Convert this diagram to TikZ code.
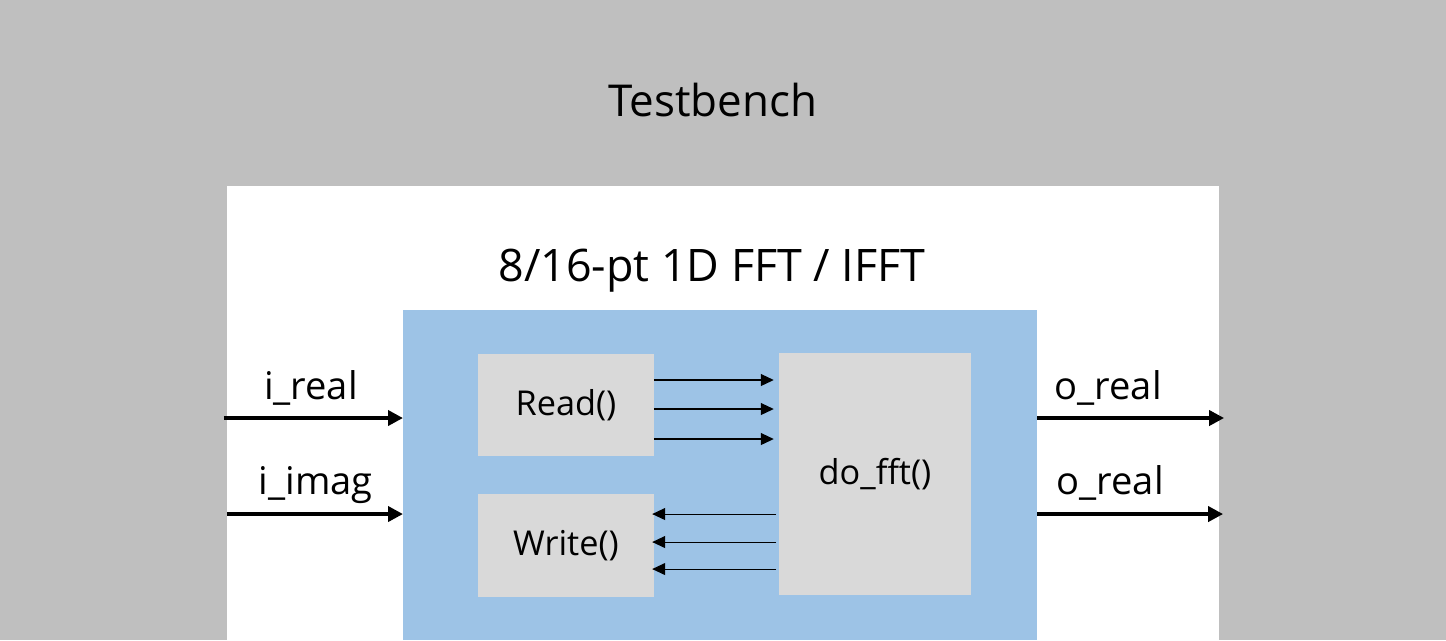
\documentclass[tikz,border=0pt]{standalone}
\usepackage{fontspec}
\setmainfont{Open Sans}
\usetikzlibrary{arrows.meta, positioning, calc}

\definecolor{tbgray}{HTML}{BFBFBF}
\definecolor{fftblue}{HTML}{9DC3E6}
\definecolor{fngray}{HTML}{D9D9D9}

\tikzstyle{area} = [rectangle, inner sep=0pt, outer sep=0pt, draw=none]
\tikzstyle{func} = [rectangle, inner sep=0pt, outer sep=0pt, draw=none, fill=fngray, font=\fontsize{19.5}{23}\selectfont]
\tikzstyle{port} = [font=\fontsize{21.7}{26}\selectfont, inner sep=0pt]
\tikzstyle{bus} = [line width=2.3pt, -{Triangle[length=0.3cm,width=0.3cm]}]
\tikzstyle{wire} = [line width=0.6pt, -{Triangle[length=0.26cm,width=0.24cm]}]

\begin{document}
\begin{tikzpicture}[x=0.02cm, y=-0.02cm]
\node (bg) [area, fill=tbgray, minimum width=28.92cm, minimum height=12.8cm] at (723,320) {};
\node (tb) [area, fill=white, minimum width=19.84cm, minimum height=9.08cm] at (723,413) {};
\node (fftblk) [area, fill=fftblue, minimum width=12.68cm, minimum height=6.6cm] at (720,475) {};
\node (tbtitle) [font=\fontsize{25}{30}\selectfont] at (713,100) {Testbench};
\node (ffttitle) [font=\fontsize{25.5}{30}\selectfont] at (712,271) {8/16-pt 1D FFT / IFFT};
\node (rd) [func, minimum width=3.52cm, minimum height=2.04cm] at (566,405) {Read()};
\node (wr) [func, minimum width=3.52cm, minimum height=2.06cm] at (566,545.5) {Write()};
\node (fft) [func, minimum width=3.84cm, minimum height=4.84cm] at (875,474) {do\_fft()};
% ports
\coordinate (ire) at (224,418);
\coordinate (iim) at (227,514);
\coordinate (ore) at (1224,418);
\coordinate (oim) at (1223,514);
\node (lire) [port] at (311,388) {i\_real};
\node (liim) [port] at (316,485) {i\_imag};
\node (lore) [port] at (1108,388) {o\_real};
\node (loim) [port] at (1110,483) {o\_real};
\draw [bus] (ire) -- (ire -| fftblk.west);
\draw [bus] (iim) -- (iim -| fftblk.west);
\draw [bus] (ore -| fftblk.east) -- (ore);
\draw [bus] (oim -| fftblk.east) -- (oim);
% internal wires
\foreach \y in {380,409,439} {
  \coordinate (r\y) at (654,\y);
  \draw [wire, shorten >=3] (r\y) -- (r\y -| fft.west);
}
\foreach \y in {514,542,569} {
  \coordinate (w\y) at (776,\y);
  \draw [wire, shorten >=-1] (w\y) -- (w\y -| wr.east);
}
\end{tikzpicture}
\end{document}
